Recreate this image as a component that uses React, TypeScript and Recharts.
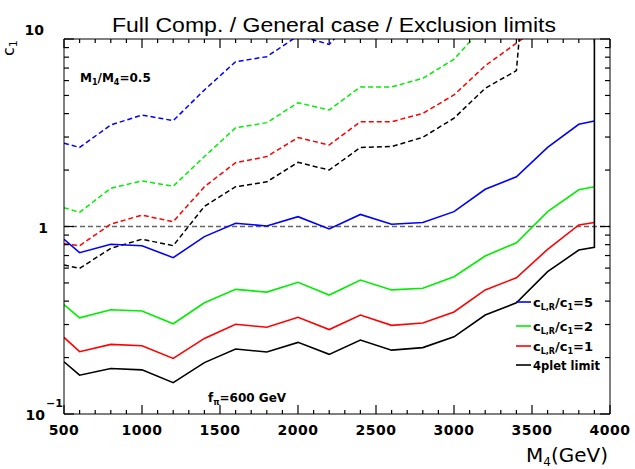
import React from 'react';
import { LineChart, Line, XAxis, YAxis, ReferenceLine } from 'recharts';

// M4 (GeV) sampling points
const masses = [500, 600, 800, 1000, 1200, 1400, 1600, 1800, 2000, 2200, 2400, 2600, 2800, 3000, 3200, 3400, 3600, 3800, 3900];

// lower limits (solid)
const lowerR5 = [0.855, 0.725, 0.804, 0.79, 0.682, 0.883, 1.04, 1.007, 1.128, 0.97, 1.16, 1.028, 1.05, 1.2, 1.58, 1.84, 2.64, 3.51, 3.65];
const lowerR2 = [0.383, 0.326, 0.36, 0.354, 0.303, 0.392, 0.462, 0.447, 0.504, 0.431, 0.518, 0.459, 0.468, 0.54, 0.696, 0.819, 1.2, 1.57, 1.63];
const lowerR1 = [0.256, 0.215, 0.235, 0.231, 0.198, 0.253, 0.301, 0.29, 0.328, 0.282, 0.337, 0.297, 0.306, 0.35, 0.459, 0.533, 0.755, 1.02, 1.05];
const pletMass = [500, 600, 800, 1000, 1200, 1400, 1600, 1800, 2000, 2200, 2400, 2600, 2800, 3000, 3200, 3400, 3600, 3800, 3900, 3900];
const lowerPlet = [0.19, 0.161, 0.175, 0.172, 0.147, 0.188, 0.222, 0.214, 0.241, 0.208, 0.248, 0.219, 0.226, 0.258, 0.337, 0.392, 0.574, 0.749, 0.774, 10];

// upper limits (dashed)
const upperR5 = [2.78, 2.64, 3.48, 3.93, 3.67, 5.35, 7.57, 8.05, 10.4, 9.37, 14];
const upperR2 = [1.26, 1.19, 1.6, 1.75, 1.64, 2.36, 3.36, 3.58, 4.57, 4.18, 5.55, 5.55, 6.17, 7.8, 11.9];
const upperR1 = [0.81, 0.79, 1.03, 1.15, 1.06, 1.63, 2.19, 2.36, 2.98, 2.72, 3.62, 3.62, 4.01, 5.03, 7.2, 9.5, 12.5];
const upperPletMass = [500, 600, 800, 1000, 1200, 1400, 1600, 1800, 2000, 2200, 2400, 2600, 2800, 3000, 3200, 3400, 3420];
const upperPlet = [0.623, 0.598, 0.765, 0.855, 0.79, 1.28, 1.63, 1.73, 2.2, 2.0, 2.64, 2.67, 2.99, 3.78, 5.46, 6.78, 10.5];

const xTicks = [500, 600, 700, 800, 900, 1000, 1100, 1200, 1300, 1400, 1500, 1600, 1700, 1800, 1900, 2000, 2100, 2200, 2300, 2400, 2500, 2600, 2700, 2800, 2900, 3000, 3100, 3200, 3300, 3400, 3500, 3600, 3700, 3800, 3900, 4000];
const yTicks = [0.1, 0.2, 0.3, 0.4, 0.5, 0.6, 0.7, 0.8, 0.9, 1, 2, 3, 4, 5, 6, 7, 8, 9, 10];

const legendItems = [
  { color: '#0000ff', ratio: '5' },
  { color: '#00ee00', ratio: '2' },
  { color: '#ff0000', ratio: '1' },
];

const pts = (ms: number[], vs: number[]) => vs.map((v, i) => ({ m: ms[i], c: v }));

const FONT = 'DejaVu Sans, sans-serif';
const isMajorX = (v: number) => v % 500 === 0;
const isMajorY = (v: number) => v === 0.1 || v === 1 || v === 10;

// frame of the plot area (follows from chart size, margins and axis sizes below)
const PLOT = { left: 64, right: 610, top: 39, bottom: 414 };
const tickX = (v: number) => PLOT.left + ((v - 500) / 3500) * (PLOT.right - PLOT.left);
const tickY = (v: number) => PLOT.bottom - ((Math.log10(v) + 1) / 2) * (PLOT.bottom - PLOT.top);

const BottomLabel = (props: any) => {
  const { x, y, payload } = props;
  if (!isMajorX(payload.value)) return <g />;
  return (
    <text x={x} y={y + 21} textAnchor="middle" fontFamily={FONT} fontWeight="bold" fontSize={14} letterSpacing={0.5} fill="#000">
      {payload.value}
    </text>
  );
};

const LeftLabel = (props: any) => {
  const { x, y, payload } = props;
  const v = payload.value;
  const txt = { fontFamily: FONT, fontWeight: 'bold' as const, fontSize: 14, fill: '#000' };
  if (v === 10) return <text x={x - 20} y={y - 4} textAnchor="end" {...txt}>10</text>;
  if (v === 1) return <text x={x - 16} y={y + 6} textAnchor="end" {...txt}>1</text>;
  if (v === 0.1)
    return (
      <g>
        <text x={x - 19} y={y + 6} textAnchor="end" {...txt}>10</text>
        <text x={x - 18} y={y - 7} textAnchor="start" {...txt} fontSize={11}>−1</text>
      </g>
    );
  return <g />;
};

const axisCommon = {
  type: 'number' as const,
  allowDataOverflow: true,
  interval: 0 as const,
  axisLine: { stroke: '#000' },
  tickLine: false,
  tickSize: 0,
  tickMargin: 0,
};

export default function App() {
  return (
    <div style={{ position: 'absolute', left: 0, top: 0, width: 635, height: 469, background: '#fff' }}>
      <LineChart width={635} height={469} margin={{ top: 38, right: 24, bottom: 25, left: 24 }}>
        <ReferenceLine xAxisId="bottom" yAxisId="left" y={1} stroke="#666" strokeWidth={1.5} strokeDasharray="5 3" />

        <Line xAxisId="bottom" yAxisId="left" data={pts(masses, upperR5)} dataKey="c" type="linear" dot={false} stroke="#0000ff" strokeWidth={1.5} strokeDasharray="5 3" isAnimationActive={false} />
        <Line xAxisId="bottom" yAxisId="left" data={pts(masses, upperR2)} dataKey="c" type="linear" dot={false} stroke="#00ee00" strokeWidth={1.5} strokeDasharray="5 3" isAnimationActive={false} />
        <Line xAxisId="bottom" yAxisId="left" data={pts(masses, upperR1)} dataKey="c" type="linear" dot={false} stroke="#ff0000" strokeWidth={1.5} strokeDasharray="5 3" isAnimationActive={false} />
        <Line xAxisId="bottom" yAxisId="left" data={pts(upperPletMass, upperPlet)} dataKey="c" type="linear" dot={false} stroke="#000" strokeWidth={1.5} strokeDasharray="5 3" isAnimationActive={false} />

        <Line xAxisId="bottom" yAxisId="left" data={pts(masses, lowerR5)} dataKey="c" type="linear" dot={false} stroke="#0000ff" strokeWidth={1.6} isAnimationActive={false} />
        <Line xAxisId="bottom" yAxisId="left" data={pts(masses, lowerR2)} dataKey="c" type="linear" dot={false} stroke="#00ee00" strokeWidth={1.6} isAnimationActive={false} />
        <Line xAxisId="bottom" yAxisId="left" data={pts(masses, lowerR1)} dataKey="c" type="linear" dot={false} stroke="#ff0000" strokeWidth={1.6} isAnimationActive={false} />
        <Line xAxisId="bottom" yAxisId="left" data={pts(pletMass, lowerPlet)} dataKey="c" type="linear" dot={false} stroke="#000" strokeWidth={1.6} isAnimationActive={false} />

        <XAxis xAxisId="bottom" dataKey="m" {...axisCommon} domain={[500, 4000]} ticks={xTicks} tick={BottomLabel} height={30} />
        <XAxis xAxisId="top" orientation="top" {...axisCommon} domain={[500, 4000]} ticks={xTicks} tick={false} height={1} />
        <YAxis yAxisId="left" {...axisCommon} scale="log" domain={[0.1, 10]} ticks={yTicks} tick={LeftLabel} width={40} />
        <YAxis yAxisId="right" orientation="right" {...axisCommon} scale="log" domain={[0.1, 10]} ticks={yTicks} tick={false} width={1} />
      </LineChart>

      <svg width={635} height={469} style={{ position: 'absolute', left: 0, top: 0, pointerEvents: 'none' }}>
        {/* inward tick marks on all four sides */}
        <g stroke="#000" strokeWidth={1.2}>
          {xTicks.map((v) => {
            const len = isMajorX(v) ? 9 : 4;
            const px = tickX(v);
            return (
              <g key={`x${v}`}>
                <line x1={px} x2={px} y1={PLOT.bottom} y2={PLOT.bottom - len} />
                <line x1={px} x2={px} y1={PLOT.top} y2={PLOT.top + len} />
              </g>
            );
          })}
          {yTicks.map((v) => {
            const len = isMajorY(v) ? 10 : 5;
            const py = tickY(v);
            return (
              <g key={`y${v}`}>
                <line x1={PLOT.left} x2={PLOT.left + len} y1={py} y2={py} />
                <line x1={PLOT.right} x2={PLOT.right - len} y1={py} y2={py} />
              </g>
            );
          })}
        </g>
        <text x={334} y={32} textAnchor="middle" fontFamily="Liberation Sans, sans-serif" fontSize={20} textLength={444} lengthAdjust="spacingAndGlyphs">
          Full Comp. / General case / Exclusion limits
        </text>
        <text transform="translate(14,56) rotate(-90)" fontFamily={FONT} fontSize={16}>
          c<tspan fontSize={11} dy={3}>1</tspan>
        </text>
        <text x={608} y={462} textAnchor="end" fontFamily={FONT} fontSize={20}>
          M<tspan fontSize={12} dy={4}>4</tspan><tspan dy={-4}>(GeV)</tspan>
        </text>
        <text x={80} y={82} fontFamily={FONT} fontWeight="bold" fontSize={12}>
          M<tspan fontSize={8} dy={3}>1</tspan><tspan dy={-3}>/M</tspan><tspan fontSize={8} dy={3}>4</tspan><tspan dy={-3}>=0.5</tspan>
        </text>
        <text x={208} y={402} fontFamily={FONT} fontWeight="bold" fontSize={12}>
          f<tspan fontSize={8} dy={3}>π</tspan><tspan dy={-3}>=600 GeV</tspan>
        </text>
        {legendItems.map((it, i) => {
          const ly = [302, 326, 346][i];
          return (
            <g key={it.ratio}>
              <line x1={516} x2={531} y1={ly} y2={ly} stroke={it.color} strokeWidth={1.6} />
              <text x={533} y={ly + 5} fontFamily={FONT} fontWeight="bold" fontSize={13}>
                c<tspan fontSize={8} dy={3}>L,R</tspan><tspan dy={-3}>/c</tspan><tspan fontSize={8} dy={3}>1</tspan><tspan dy={-3}>={it.ratio}</tspan>
              </text>
            </g>
          );
        })}
        <line x1={516} x2={531} y1={365} y2={365} stroke="#000" strokeWidth={1.6} />
        <text x={533} y={370} fontFamily={FONT} fontWeight="bold" fontSize={13} textLength={67} lengthAdjust="spacingAndGlyphs">4plet limit</text>
      </svg>
    </div>
  );
}
